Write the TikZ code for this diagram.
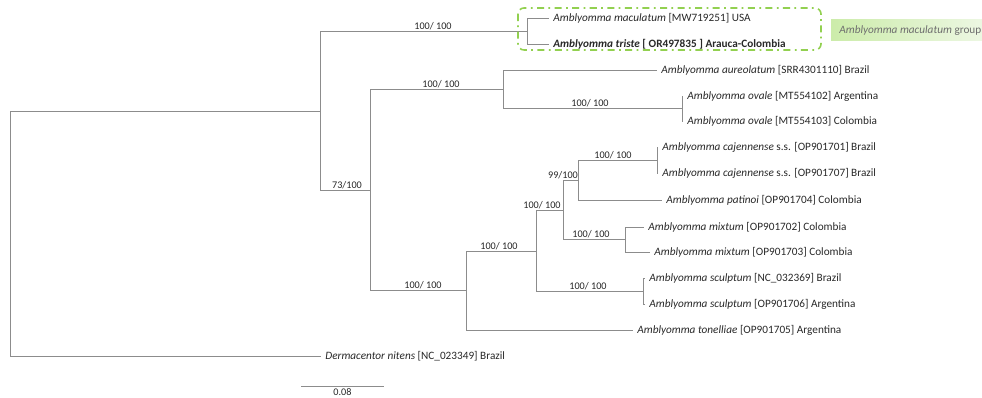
\documentclass[tikz,border=0pt]{standalone}
\usepackage{fontspec}
\setmainfont{Carlito}
\definecolor{branch}{RGB}{140,140,140}
\definecolor{grpline}{RGB}{146,208,80}
\definecolor{grpfillL}{RGB}{204,236,170}
\definecolor{grpfillR}{RGB}{236,247,226}
\definecolor{grptext}{RGB}{110,110,110}
\definecolor{labtext}{RGB}{40,40,40}

\begin{document}
\begin{tikzpicture}[x=0.02cm, y=-0.02cm,
    br/.style={draw=branch, line width=0.55pt},
    leaf/.style={anchor=west, inner xsep=0.08cm, inner ysep=0pt, text=labtext,
                 font=\fontsize{6.4}{7}\selectfont},
    bs/.style={anchor=south, inner sep=0.02cm, text=labtext,
               font=\fontsize{5.8}{6}\selectfont},
    grpbox/.style={draw=grpline, line width=0.9pt, rounded corners=0.12cm,
                   dash pattern=on 4pt off 2.5pt on 1pt off 2.5pt}]
    \useasboundingbox (0,0) rectangle (982,398);

    \node[leaf] (mac)  at (549, 18) {\textit{Amblyomma maculatum} [MW719251] USA};
    \node[leaf] (tri)  at (549, 44) {\textbf{\textit{Amblyomma triste} [ OR497835 ] Arauca-Colombia}};
    \node[leaf] (aur)  at (657, 70) {\textit{Amblyomma aureolatum} [SRR4301110] Brazil};
    \node[leaf] (ova1) at (683, 96) {\textit{Amblyomma ovale} [MT554102] Argentina};
    \node[leaf] (ova2) at (683,121) {\textit{Amblyomma ovale} [MT554103] Colombia};
    \node[leaf] (caj1) at (658,147) {\textit{Amblyomma cajennense} s.s. [OP901701] Brazil};
    \node[leaf] (caj2) at (658,173) {\textit{Amblyomma cajennense} s.s. [OP901707] Brazil};
    \node[leaf] (pat)  at (662,200) {\textit{Amblyomma patinoi} [OP901704] Colombia};
    \node[leaf] (mix1) at (644,227) {\textit{Amblyomma mixtum} [OP901702] Colombia};
    \node[leaf] (mix2) at (650,252) {\textit{Amblyomma mixtum} [OP901703] Colombia};
    \node[leaf] (scu1) at (645,278) {\textit{Amblyomma sculptum} [NC\_032369] Brazil};
    \node[leaf] (scu2) at (645,304) {\textit{Amblyomma sculptum} [OP901706] Argentina};
    \node[leaf] (ton)  at (633,330) {\textit{Amblyomma tonelliae} [OP901705] Argentina};
    \node[leaf] (der)  at (321,356) {\textit{Dermacentor nitens} [NC\_023349] Brazil};

    \coordinate (root) at ( 10,233.5);
    \coordinate (nA)   at (320,111);
    \coordinate (nM)   at (527, 31);
    \coordinate (nB)   at (370,190);
    \coordinate (nC)   at (503, 89.5);
    \coordinate (nO)   at (682,108.5);
    \coordinate (nD)   at (466,290.5);
    \coordinate (nE)   at (536,251);
    \coordinate (nF)   at (563,210);
    \coordinate (nG)   at (578,180.5);
    \coordinate (nJ)   at (657,160);
    \coordinate (nX)   at (625,239.5);
    \coordinate (nS)   at (643,291);

    \draw[br] (root) |- (nA);  \draw[br] (root) |- (der);
    \draw[br] (nA) |- (nM);    \draw[br] (nA) |- (nB);
    \draw[br] (nM) |- (mac);   \draw[br] (nM) |- (tri);
    \draw[br] (nB) |- (nC);    \draw[br] (nB) |- (nD);
    \draw[br] (nC) |- (aur);   \draw[br] (nC) |- (nO);
    \draw[br] (nO) |- (ova1);  \draw[br] (nO) |- (ova2);
    \draw[br] (nD) |- (nE);    \draw[br] (nD) |- (ton);
    \draw[br] (nE) |- (nF);    \draw[br] (nE) |- (nS);
    \draw[br] (nF) |- (nG);    \draw[br] (nF) |- (nX);
    \draw[br] (nG) |- (nJ);    \draw[br] (nG) |- (pat);
    \draw[br] (nJ) |- (caj1);  \draw[br] (nJ) |- (caj2);
    \draw[br] (nX) |- (mix1);  \draw[br] (nX) |- (mix2);
    \draw[br] (nS) |- (scu1);  \draw[br] (nS) |- (scu2);

    \node[bs] (bM) at (433, 31)   {100/ 100};
    \node[bs] (bC) at (441, 89.5) {100/ 100};
    \node[bs] (bO) at (590,108.5) {100/ 100};
    \node[bs] (bB) at (347,190)   {73/100};
    \node[bs] (bD) at (423,290.5) {100/ 100};
    \node[bs] (bE) at (499,251)   {100/ 100};
    \node[bs] (bF) at (542,210)   {100/ 100};
    \node[bs] (bG) at (563,180.5) {99/100};
    \node[bs] (bJ) at (613,160)   {100/ 100};
    \node[bs] (bX) at (591,239.5) {100/ 100};
    \node[bs] (bS) at (588,291)   {100/ 100};

    \draw[grpbox] (518,8) rectangle (821,50);
    \shade[left color=grpfillL, right color=grpfillR] (831,20) rectangle (982,41);
    \node[anchor=west, inner sep=0pt, text=grptext, font=\fontsize{6.4}{7}\selectfont]
        (grp) at (839,30.5) {\textit{Amblyomma maculatum} group};

    \coordinate (sbL) at (301,386);
    \coordinate (sbR) at (384,386);
    \draw[br] (sbL) -- (sbR) node[midway, below, inner sep=0.04cm, text=labtext,
        font=\fontsize{5.8}{6}\selectfont] (sbT) {0.08};
\end{tikzpicture}
\end{document}
